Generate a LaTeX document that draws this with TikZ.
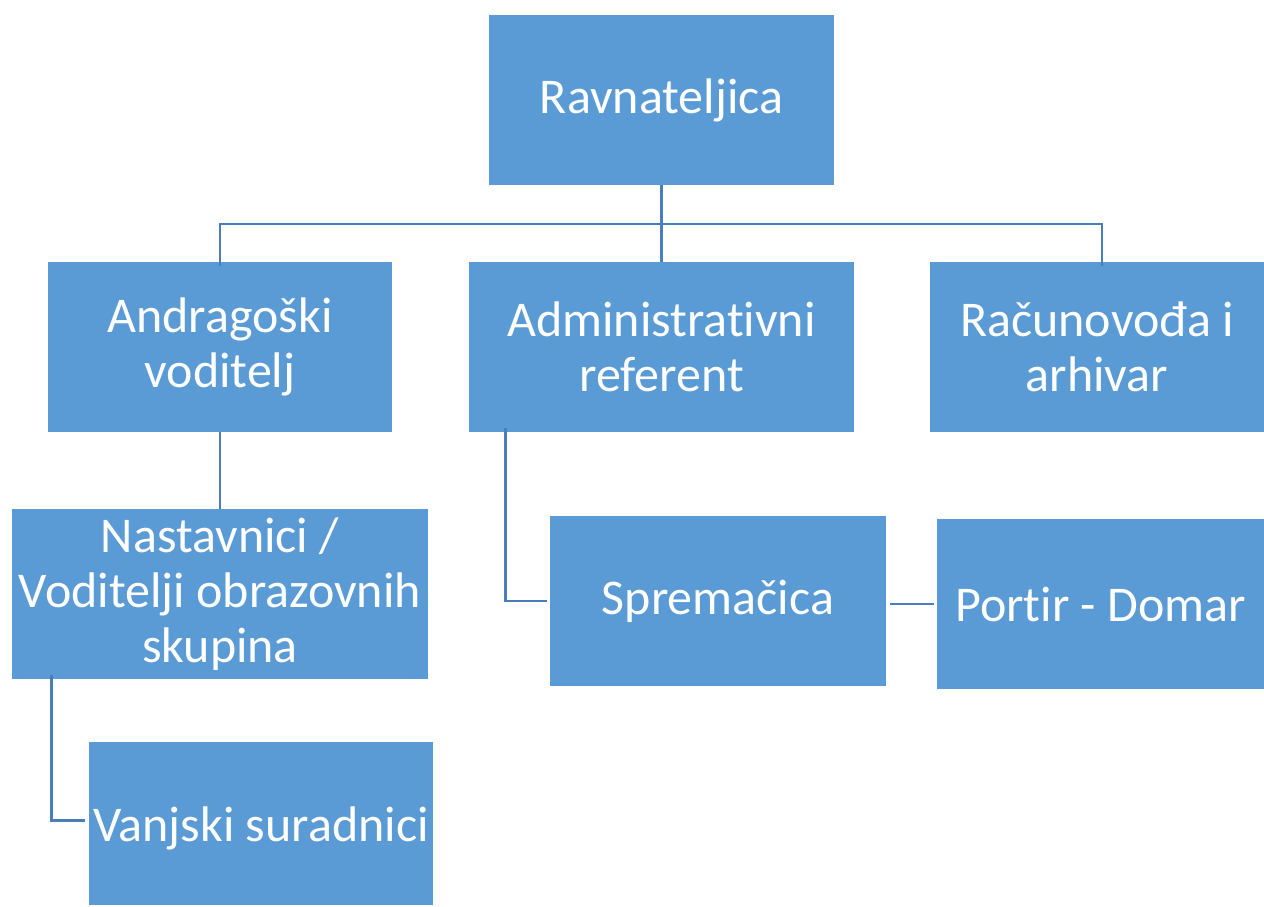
\documentclass[tikz,border=0pt]{standalone}
\usepackage{fontspec}
\setmainfont{Carlito}[Ligatures=NoCommon]
\definecolor{boxfill}{HTML}{5B9BD5}
\definecolor{linecol}{HTML}{4A7EBB}
\begin{document}
\begin{tikzpicture}[x=1pt,y=-1pt,
  orgbox/.style={fill=boxfill,draw=none,inner sep=0pt,align=center,text=white,
    font=\fontsize{50}{55}\selectfont},
  conn/.style={draw=linecol,line width=2.8pt}]
\useasboundingbox (0,0) rectangle (1264,906);
\fill[white] (0,0) rectangle (1264,906);
% boxes: centre, width, height
\node[orgbox,minimum width=345pt,minimum height=170pt] (rav) at (661.5,100) {Ravnateljica};
\node[orgbox,minimum width=344pt,minimum height=170pt] (and) at (220,347) {Andragoški\\voditelj};
\node[orgbox,minimum width=385pt,minimum height=170pt] (adm) at (661.5,347) {Administrativni\\referent};
\node[orgbox,minimum width=334pt,minimum height=170pt] (rac) at (1097,347) {Računovođa i\\arhivar};
\node[orgbox,minimum width=416pt,minimum height=170pt] (nas) at (220,594) {Nastavnici /\\Voditelji obrazovnih\\skupina};
\node[orgbox,minimum width=336pt,minimum height=170pt] (spr) at (718,601) {Spremačica};
\node[orgbox,minimum width=327pt,minimum height=170pt] (por) at (1100.5,604) {Portir - Domar};
\node[orgbox,minimum width=344pt,minimum height=163pt] (van) at (261,823.5) {};
\node[text=white,font=\fontsize{50}{55}\selectfont,inner sep=0pt] (vantext) at (261,828) {Vanjski suradnici};
% connectors
\coordinate (bus) at (661.5,224);
\draw[conn] (rav.south) -- (adm.north);
\draw[conn] ([yshift=-4pt]and.north) |- (bus) -| ([xshift=5pt,yshift=-4pt]rac.north);
\draw[conn] (and.south) -- (nas.north);
\draw[conn] ([xshift=37pt,yshift=4pt]adm.south west) |- ([xshift=-3pt]spr.west);
\draw[conn] ([xshift=4pt]spr.east |- por.west) -- ([xshift=-3pt]por.west);
\draw[conn] ([xshift=40pt,yshift=4pt]nas.south west) |- ([xshift=-4pt,yshift=3pt]van.west);
\end{tikzpicture}
\end{document}
